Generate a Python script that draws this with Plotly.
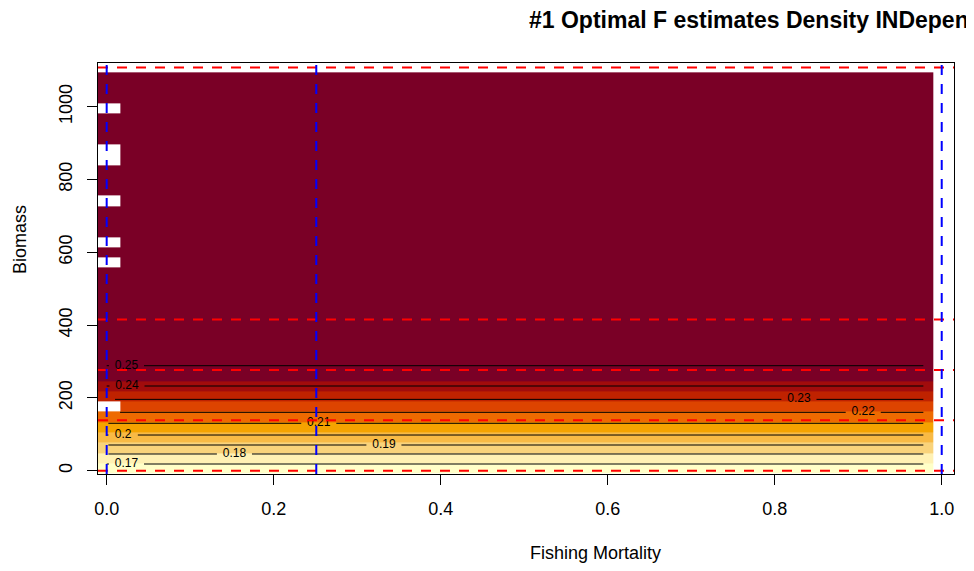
import numpy as np
import plotly.graph_objects as go

# ---------------- data ----------------
# grid of the image (cell edges)
fishing_mortality_edges = np.concatenate([[-0.016], np.linspace(0.016, 0.99, 49)])
biomass_edges = np.linspace(-7.7, 1094.4, 40)

# optimal F estimate for each biomass row (bottom -> top)
optimal_f_by_row = [0.165, 0.175, 0.185, 0.195, 0.205, 0.215, 0.225, 0.235, 0.245] + [0.255] * 30
# rows with no estimate in the first F column
missing_rows_first_col = [6, 20, 22, 26, 30, 31, 35]

band_breaks = [0.16, 0.17, 0.18, 0.19, 0.20, 0.21, 0.22, 0.23, 0.24, 0.25, 0.26]
band_colors = ["#FFFFC8", "#FFF1B4", "#F9D37B", "#F8BA45", "#F5A300",
               "#EE6A00", "#DD4400", "#BF2200", "#A10C0C", "#7A0026"]

# contour lines
contour_levels = ["0.17", "0.18", "0.19", "0.2", "0.21", "0.22", "0.23", "0.24", "0.25"]
contour_biomass = [18.4, 45.9, 70.6, 98.0, 130.2, 160.4, 196.0, 232.7, 288.5]
contour_label_f = [0.0237, 0.153, 0.332, 0.0197, 0.254, 0.906, 0.829, 0.0243, 0.0237]
contour_start_f = [0.0, 0.002, 0.002, 0.0, 0.002, 0.016, 0.010, 0.0, 0.0]
contour_end_f = 0.978

# reference lines
ref_biomass = [0, 138.5, 277, 415.5, 1108]
ref_f = [0.0, 0.251, 1.0]

x_ticks = [0.0, 0.2, 0.4, 0.6, 0.8, 1.0]
x_tick_labels = ["0.0", "0.2", "0.4", "0.6", "0.8", "1.0"]
y_ticks = [0, 200, 400, 600, 800, 1000]
y_tick_labels = ["0", "200", "400", "600", "800", "1000"]

title_text = "#1 Optimal F estimates Density INDependent"
x_title = "Fishing Mortality"
y_title = "Biomass"

# ---------------- layout geometry ----------------
# the page body has an 8px margin, so the figure is drawn 8px in from the window corner
OFF = 8
W, H = 974 - OFF, 571 - OFF
BOX_L, BOX_R, BOX_T, BOX_B = 98, 954, 63, 474        # plot box in window pixels
L, T = BOX_L - OFF, BOX_T - OFF
R, B = W - (BOX_R - OFF), H - (BOX_B - OFF)
PW, PH = BOX_R - BOX_L, BOX_B - BOX_T
FONT = "Liberation Sans, Arial, sans-serif"


def px_x(px):
    return (px - BOX_L) / PW


def px_y(py):
    return (BOX_B - py) / PH


# ---------------- figure ----------------
n_rows = len(biomass_edges) - 1
n_cols = len(fishing_mortality_edges) - 1
z = np.tile(np.array(optimal_f_by_row, dtype=float)[:, None], (1, n_cols))
for r in missing_rows_first_col:
    z[r, 0] = np.nan

zmin, zmax = band_breaks[0], band_breaks[-1]
colorscale = []
for i, c in enumerate(band_colors):
    a = (band_breaks[i] - zmin) / (zmax - zmin)
    b = (band_breaks[i + 1] - zmin) / (zmax - zmin)
    colorscale += [[a, c], [b, c]]

fig = go.Figure()
fig.add_trace(go.Heatmap(
    x=fishing_mortality_edges, y=biomass_edges, z=z,
    colorscale=colorscale, zmin=zmin, zmax=zmax, showscale=False,
    hoverinfo="skip", zsmooth=False,
))

# contour lines (horizontal) broken around their labels
for lev, yv, lx, sx in zip(contour_levels, contour_biomass, contour_label_f, contour_start_f):
    half = 0.021 if len(lev) == 4 else 0.0176
    xs, ys = [], []
    if lx - half > sx:
        xs += [sx, lx - half, None]
        ys += [yv, yv, None]
    xs += [lx + half, contour_end_f]
    ys += [yv, yv]
    fig.add_trace(go.Scatter(x=xs, y=ys, mode="lines",
                             line=dict(color="black", width=1),
                             hoverinfo="skip", showlegend=False))

fig.add_trace(go.Scatter(
    x=contour_label_f, y=contour_biomass, mode="text", text=contour_levels,
    textposition="middle center",
    textfont=dict(family=FONT, size=12, color="black"),
    hoverinfo="skip", showlegend=False,
))

shapes = []
for yv in ref_biomass:
    shapes.append(dict(type="line", xref="paper", x0=0, x1=1, yref="y", y0=yv, y1=yv,
                       line=dict(color="#FF0000", width=2, dash="10px,9px"), layer="above"))
for xv in ref_f:
    shapes.append(dict(type="line", yref="paper", y0=0, y1=1, xref="x", x0=xv, x1=xv,
                       line=dict(color="#0000FF", width=2, dash="10px,9px"), layer="above"))

annotations = [
    dict(text="<b>" + title_text + "</b>", xref="paper", yref="paper",
         x=px_x(527), y=px_y(20), xanchor="left", yanchor="middle", showarrow=False,
         font=dict(family=FONT, size=23, color="black")),
    dict(text=x_title, xref="paper", yref="paper", x=px_x(595), y=px_y(553),
         xanchor="center", yanchor="middle", showarrow=False,
         font=dict(family=FONT, size=18, color="black")),
    dict(text=y_title, xref="paper", yref="paper", x=px_x(20), y=px_y(240),
         xanchor="center", yanchor="middle", showarrow=False, textangle=-90,
         font=dict(family=FONT, size=18, color="black")),
]

fig.update_layout(
    width=W, height=H,
    margin=dict(l=L, r=R, t=T, b=B, autoexpand=False),
    paper_bgcolor="white", plot_bgcolor="white",
    showlegend=False,
    shapes=shapes, annotations=annotations,
    xaxis=dict(range=[-0.0104, 1.0147], tickvals=x_ticks, ticktext=x_tick_labels,
               ticks="outside", ticklen=10, tickcolor="black", tickwidth=1,
               showline=True, mirror=True, linecolor="black", linewidth=1,
               showgrid=False, zeroline=False, ticklabelstandoff=8,
               tickfont=dict(family=FONT, size=18, color="black")),
    yaxis=dict(range=[-9.07, 1120.1], tickvals=y_ticks, ticktext=y_tick_labels,
               ticks="outside", ticklen=10, tickcolor="black", tickwidth=1,
               showline=True, mirror=True, linecolor="black", linewidth=1,
               showgrid=False, zeroline=False, tickangle=-90, ticklabelstandoff=8,
               tickfont=dict(family=FONT, size=18, color="black")),
)

fig.write_html("out.html")
